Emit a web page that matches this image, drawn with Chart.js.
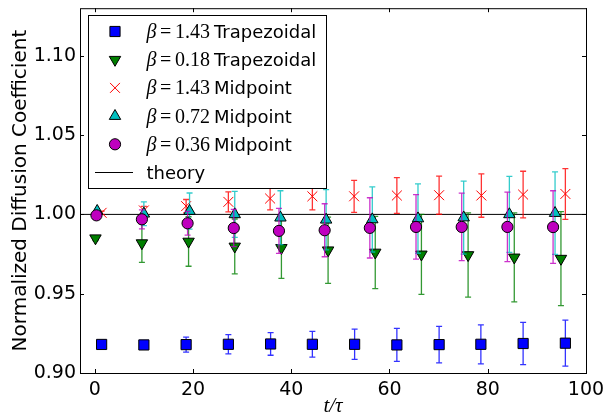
<!DOCTYPE html>
<html>
<head>
<meta charset="utf-8">
<script src="https://cdn.jsdelivr.net/npm/chart.js@4.4.0/dist/chart.umd.min.js"></script>
<style>
  html, body { margin: 0; padding: 0; background: #fff; }
</style>
</head>
<body>
<canvas id="chart" width="608" height="419"></canvas>
<script>
// axis ticks
const xTicks = [0, 20, 40, 60, 80, 100];
const yTicks = [0.90, 0.95, 1.00, 1.05, 1.10];

// beta = 1.43, trapezoidal
const trap143T = [1.4, 10.0, 18.6, 27.2, 35.8, 44.3, 52.9, 61.5, 70.1, 78.6, 87.2, 95.8];
const trap143D = [0.9180, 0.9177, 0.9179, 0.9181, 0.9183, 0.9181, 0.9181, 0.9177, 0.9179, 0.9181, 0.9186, 0.9188];
const trap143Err = [0.0003, 0.0008, 0.0047, 0.0061, 0.0071, 0.0081, 0.0095, 0.0104, 0.0115, 0.0123, 0.0133, 0.0145];

// beta = 0.18, trapezoidal
const trap018T = [0.15, 9.6, 19.1, 28.5, 38.0, 47.5, 57.1, 66.5, 76.0, 85.4, 94.9];
const trap018D = [0.9850, 0.9819, 0.9829, 0.9798, 0.9789, 0.9774, 0.9760, 0.9748, 0.9744, 0.9729, 0.9721];
const trap018Err = [0.0015, 0.0121, 0.0156, 0.0173, 0.0192, 0.0209, 0.0228, 0.0252, 0.0266, 0.0280, 0.0296];

// beta = 1.43, midpoint
const mid143T = [1.4, 10.0, 18.6, 27.2, 35.7, 44.3, 52.8, 61.5, 70.1, 78.7, 87.2, 95.8];
const mid143D = [1.0010, 1.0025, 1.0052, 1.0079, 1.0100, 1.0114, 1.0114, 1.0119, 1.0121, 1.0119, 1.0125, 1.0129];
const mid143Err = [0.0010, 0.0026, 0.0042, 0.0063, 0.0072, 0.0085, 0.0101, 0.0113, 0.0120, 0.0137, 0.0147, 0.0160];

// beta = 0.72, midpoint
const mid072T = [0.5, 10.0, 19.3, 28.5, 37.8, 47.1, 56.5, 65.8, 75.1, 84.4, 93.7];
const mid072D = [1.0021, 1.0004, 1.0021, 1.0000, 0.9979, 0.9966, 0.9968, 0.9974, 0.9980, 1.0000, 1.0008];
const mid072Err = [0.0010, 0.0075, 0.0114, 0.0145, 0.0170, 0.0190, 0.0205, 0.0219, 0.0230, 0.0240, 0.0260];

// beta = 0.36, midpoint
const mid036T = [0.35, 9.6, 18.9, 28.3, 37.5, 46.8, 56.0, 65.4, 74.7, 84.0, 93.3];
const mid036D = [0.9994, 0.9969, 0.9944, 0.9914, 0.9896, 0.9900, 0.9915, 0.9921, 0.9921, 0.9921, 0.9920];
const mid036Err = [0.0005, 0.0060, 0.0075, 0.0117, 0.0142, 0.0167, 0.0190, 0.0203, 0.0213, 0.0219, 0.0229];

// theory line
const theoryT = [-3, 100];
const theoryD = [1, 1];

const pts = (xs, ys) => xs.map((x, i) => ({x: x, y: ys[i]}));

// error bars, drawn under each dataset's markers
const errorBars = {
  id: 'errorBars',
  beforeDatasetDraw(chart, args) {
    const ds = chart.data.datasets[args.index];
    if (!ds.errors) return;
    const ctx = chart.ctx, xs = chart.scales.x, ys = chart.scales.y;
    ctx.save();
    ctx.strokeStyle = ds.errColor;
    ctx.globalAlpha = 0.8;
    ctx.lineWidth = 1.3;
    ds.data.forEach((p, i) => {
      const e = ds.errors[i];
      const px = xs.getPixelForValue(p.x);
      const y1 = ys.getPixelForValue(p.y - e);
      const y2 = ys.getPixelForValue(p.y + e);
      ctx.beginPath();
      ctx.moveTo(px, y1); ctx.lineTo(px, y2);
      ctx.moveTo(px - 3, y1); ctx.lineTo(px + 3, y1);
      ctx.moveTo(px - 3, y2); ctx.lineTo(px + 3, y2);
      ctx.stroke();
    });
    ctx.restore();
  }
};

// matplotlib style frame with inward ticks on all sides
const frame = {
  id: 'frame',
  afterDatasetsDraw(chart) {
    const ctx = chart.ctx, a = chart.chartArea;
    const xs = chart.scales.x, ys = chart.scales.y;
    ctx.save();
    ctx.strokeStyle = '#000';
    ctx.lineWidth = 1;
    ctx.strokeRect(a.left + 0.5, a.top + 0.5, a.right - a.left, a.bottom - a.top);
    ctx.beginPath();
    xs.ticks.forEach(t => {
      const px = Math.round(xs.getPixelForValue(t.value)) + 0.5;
      ctx.moveTo(px, a.bottom); ctx.lineTo(px, a.bottom - 4);
      ctx.moveTo(px, a.top); ctx.lineTo(px, a.top + 4);
    });
    ys.ticks.forEach(t => {
      const py = Math.round(ys.getPixelForValue(t.value)) + 0.5;
      ctx.moveTo(a.left, py); ctx.lineTo(a.left + 4, py);
      ctx.moveTo(a.right, py); ctx.lineTo(a.right - 4, py);
    });
    ctx.stroke();
    ctx.restore();
  }
};

// legend box inside the axes, upper left
const boxLegend = {
  id: 'boxLegend',
  afterDraw(chart) {
    const ctx = chart.ctx;
    const left = 88.5, top = 15.5, w = 238, h = 173;
    ctx.save();
    ctx.fillStyle = '#fff';
    ctx.strokeStyle = '#000';
    ctx.lineWidth = 1;
    ctx.fillRect(left, top, w, h);
    ctx.strokeRect(left, top, w, h);
    chart.data.datasets.forEach(ds => {
      const cy = 31.5 + ds.legendRow * 28.2;
      if (ds.beta === undefined) {
        ctx.beginPath();
        ctx.strokeStyle = ds.borderColor;
        ctx.moveTo(95, cy); ctx.lineTo(133, cy);
        ctx.stroke();
      } else {
        ctx.fillStyle = ds.backgroundColor;
        ctx.strokeStyle = ds.borderColor;
        ctx.lineWidth = ds.borderWidth;
        Chart.helpers.drawPoint(ctx, {
          pointStyle: ds.pointStyle, rotation: ds.rotation || 0,
          radius: ds.pointRadius, borderWidth: ds.borderWidth
        }, 115, cy);
      }
      ctx.fillStyle = '#000';
      ctx.textBaseline = 'alphabetic';
      const base = cy + 6.5;
      let x = 146.5;
      if (ds.beta !== undefined) {
        ctx.font = 'italic 20px "Liberation Serif"';
        ctx.fillText('β', 146.5, base);
        ctx.font = '20px "Liberation Serif"';
        ctx.fillText('=', 160, base);
        ctx.fillText(ds.beta, 175, base);
        x = 214;
      }
      ctx.font = '18px "DejaVu Sans"';
      ctx.fillText(ds.method, x, base);
    });
    ctx.restore();
  }
};

const markerBase = { borderColor: '#000', borderWidth: 1, pointHoverRadius: 0 };

new Chart(document.getElementById('chart').getContext('2d'), {
  type: 'scatter',
  data: {
    datasets: [
      Object.assign({}, markerBase, {
        data: pts(trap143T, trap143D), errors: trap143Err, errColor: '#0000ff',
        beta: '1.43', method: 'Trapezoidal', legendRow: 0,
        pointStyle: 'rect', pointRadius: 7.2, backgroundColor: '#0000ff', order: 6
      }),
      Object.assign({}, markerBase, {
        data: pts(trap018T, trap018D), errors: trap018Err, errColor: '#007f00',
        beta: '0.18', method: 'Trapezoidal', legendRow: 1,
        pointStyle: 'triangle', rotation: 180, pointRadius: 6.6, backgroundColor: '#007f00', order: 5
      }),
      {
        data: pts(mid143T, mid143D), errors: mid143Err, errColor: '#ff0000',
        beta: '1.43', method: 'Midpoint', legendRow: 2,
        pointStyle: 'crossRot', pointRadius: 7, borderColor: '#ff0000', backgroundColor: '#ff0000',
        borderWidth: 1, order: 4
      },
      Object.assign({}, markerBase, {
        data: pts(mid072T, mid072D), errors: mid072Err, errColor: '#00bfbf',
        beta: '0.72', method: 'Midpoint', legendRow: 3,
        pointStyle: 'triangle', pointRadius: 6.6, backgroundColor: '#00bfbf', order: 3
      }),
      Object.assign({}, markerBase, {
        data: pts(mid036T, mid036D), errors: mid036Err, errColor: '#bf00bf',
        beta: '0.36', method: 'Midpoint', legendRow: 4,
        pointStyle: 'circle', pointRadius: 5.6, backgroundColor: '#bf00bf', order: 2
      }),
      {
        data: pts(theoryT, theoryD), method: 'theory', legendRow: 5,
        showLine: true, pointRadius: 0, borderColor: '#000', borderWidth: 1, order: 10
      }
    ]
  },
  options: {
    responsive: false,
    animation: false,
    layout: { padding: { top: 6, right: 22, left: 0, bottom: 0 } },
    plugins: { legend: { display: false }, tooltip: { enabled: false } },
    scales: {
      x: {
        type: 'linear', min: -3, max: 100,
        afterFit: s => { s.height = 46; s.paddingLeft = 0; s.paddingRight = 0; },
        afterBuildTicks: s => { s.ticks = xTicks.map(v => ({value: v})); },
        grid: { display: false, drawTicks: false },
        border: { display: false },
        ticks: { color: '#000', padding: 6, font: { family: 'DejaVu Sans', size: 19 } },
        title: { display: true, text: 't/τ', color: '#000', padding: { top: 0, bottom: 0 },
                 font: { family: 'Liberation Serif', style: 'italic', size: 21, lineHeight: 1.2 } }
      },
      y: {
        type: 'linear', min: 0.9, max: 1.13,
        afterFit: s => { s.width = 80; s.paddingTop = 0; s.paddingBottom = 0; },
        afterBuildTicks: s => { s.ticks = yTicks.map(v => ({value: v})); },
        grid: { display: false, drawTicks: false },
        border: { display: false },
        ticks: { color: '#000', padding: 4, font: { family: 'DejaVu Sans', size: 19 },
                 callback: v => v.toFixed(2) },
        title: { display: true, text: 'Normalized Diffusion Coefficient', color: '#000',
                 padding: { top: 9, bottom: 0 },
                 font: { family: 'DejaVu Sans', size: 20, lineHeight: 1.2 } }
      }
    }
  },
  plugins: [errorBars, frame, boxLegend]
});
</script>
</body>
</html>
